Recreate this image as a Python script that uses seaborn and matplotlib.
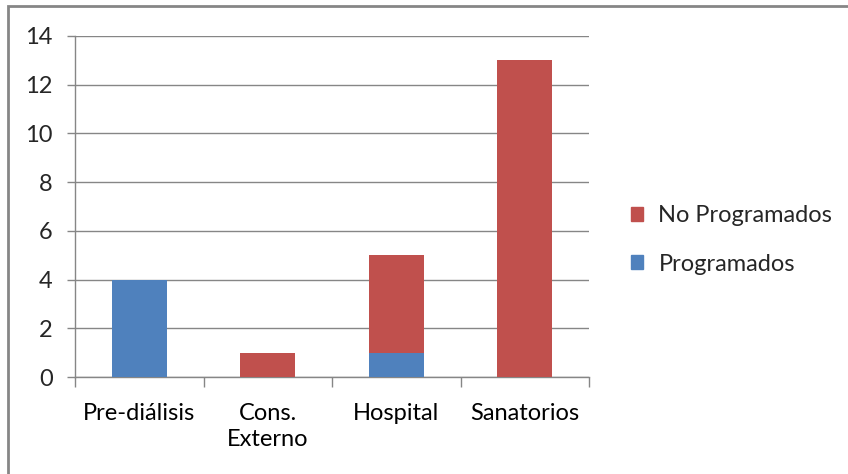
import matplotlib
matplotlib.use("Agg")
import matplotlib.pyplot as plt
import matplotlib.patches as mpatches
import seaborn as sns
import pandas as pd

categories = ["Pre-diálisis", "Cons.\nExterno", "Hospital", "Sanatorios"]
programados = [4, 0, 1, 0]
no_programados = [0, 1, 4, 13]
series_names = ["No Programados", "Programados"]
y_ticks = [0, 2, 4, 6, 8, 10, 12, 14]

blue = "#4F81BD"
red = "#C0504D"
grid_col = "#868686"
fs = 17

sns.set_theme(style="white")
plt.rcParams["font.family"] = ["Lato", "DejaVu Sans"]

df = pd.DataFrame({
    "categoria": categories,
    "prog": programados,
    "total": [p + n for p, n in zip(programados, no_programados)],
})

fig = plt.figure(figsize=(8.48, 4.74), dpi=100)
ax = fig.add_axes([75 / 848, 1 - 377 / 474, (589 - 75) / 848, (377 - 36) / 474])

# stacked bars: full height in red, lower segment in blue
sns.barplot(data=df, x="categoria", y="total", color=red, width=0.43,
            saturation=1, ax=ax, linewidth=0, zorder=3)
sns.barplot(data=df, x="categoria", y="prog", color=blue, width=0.43,
            saturation=1, ax=ax, linewidth=0, zorder=4)

ax.set_xlim(-0.5, len(categories) - 0.5)
ax.set_ylim(0, 14)
ax.set_yticks(y_ticks)
ax.set_xlabel("")
ax.set_ylabel("")
ax.yaxis.grid(True, color=grid_col, linewidth=1)
ax.set_axisbelow(True)

for side in ["top", "right"]:
    ax.spines[side].set_visible(False)
for side in ["left", "bottom"]:
    ax.spines[side].set_color(grid_col)
    ax.spines[side].set_linewidth(1)

ax.set_xticks(range(len(categories)))
ax.set_xticklabels(categories, linespacing=1.25)
ax.set_xticks([i - 0.5 for i in range(len(categories) + 1)], minor=True)
ax.tick_params(axis="x", which="major", length=0, pad=19, labelsize=fs, colors="#000000")
ax.tick_params(axis="x", which="minor", length=7, width=1, color=grid_col, bottom=True)
ax.tick_params(axis="y", which="major", length=6, width=1, color=grid_col, left=True,
               labelsize=fs, pad=10)

handles = [mpatches.Patch(color=red, label=series_names[0]),
           mpatches.Patch(color=blue, label=series_names[1])]
fig.legend(handles=handles, loc="center left", bbox_to_anchor=(610 / 848, 1 - 240 / 474),
           frameon=False, fontsize=fs, handlelength=0.5, handleheight=0.5,
           handletextpad=0.65, labelspacing=1.15)

# chart border
fig.add_artist(mpatches.Rectangle((7.5 / 848, -0.1), 1.2, 1 - 5.5 / 474 + 0.1,
                                  transform=fig.transFigure, fill=False,
                                  edgecolor=grid_col, linewidth=2))

fig.savefig("out.png", dpi=100)
